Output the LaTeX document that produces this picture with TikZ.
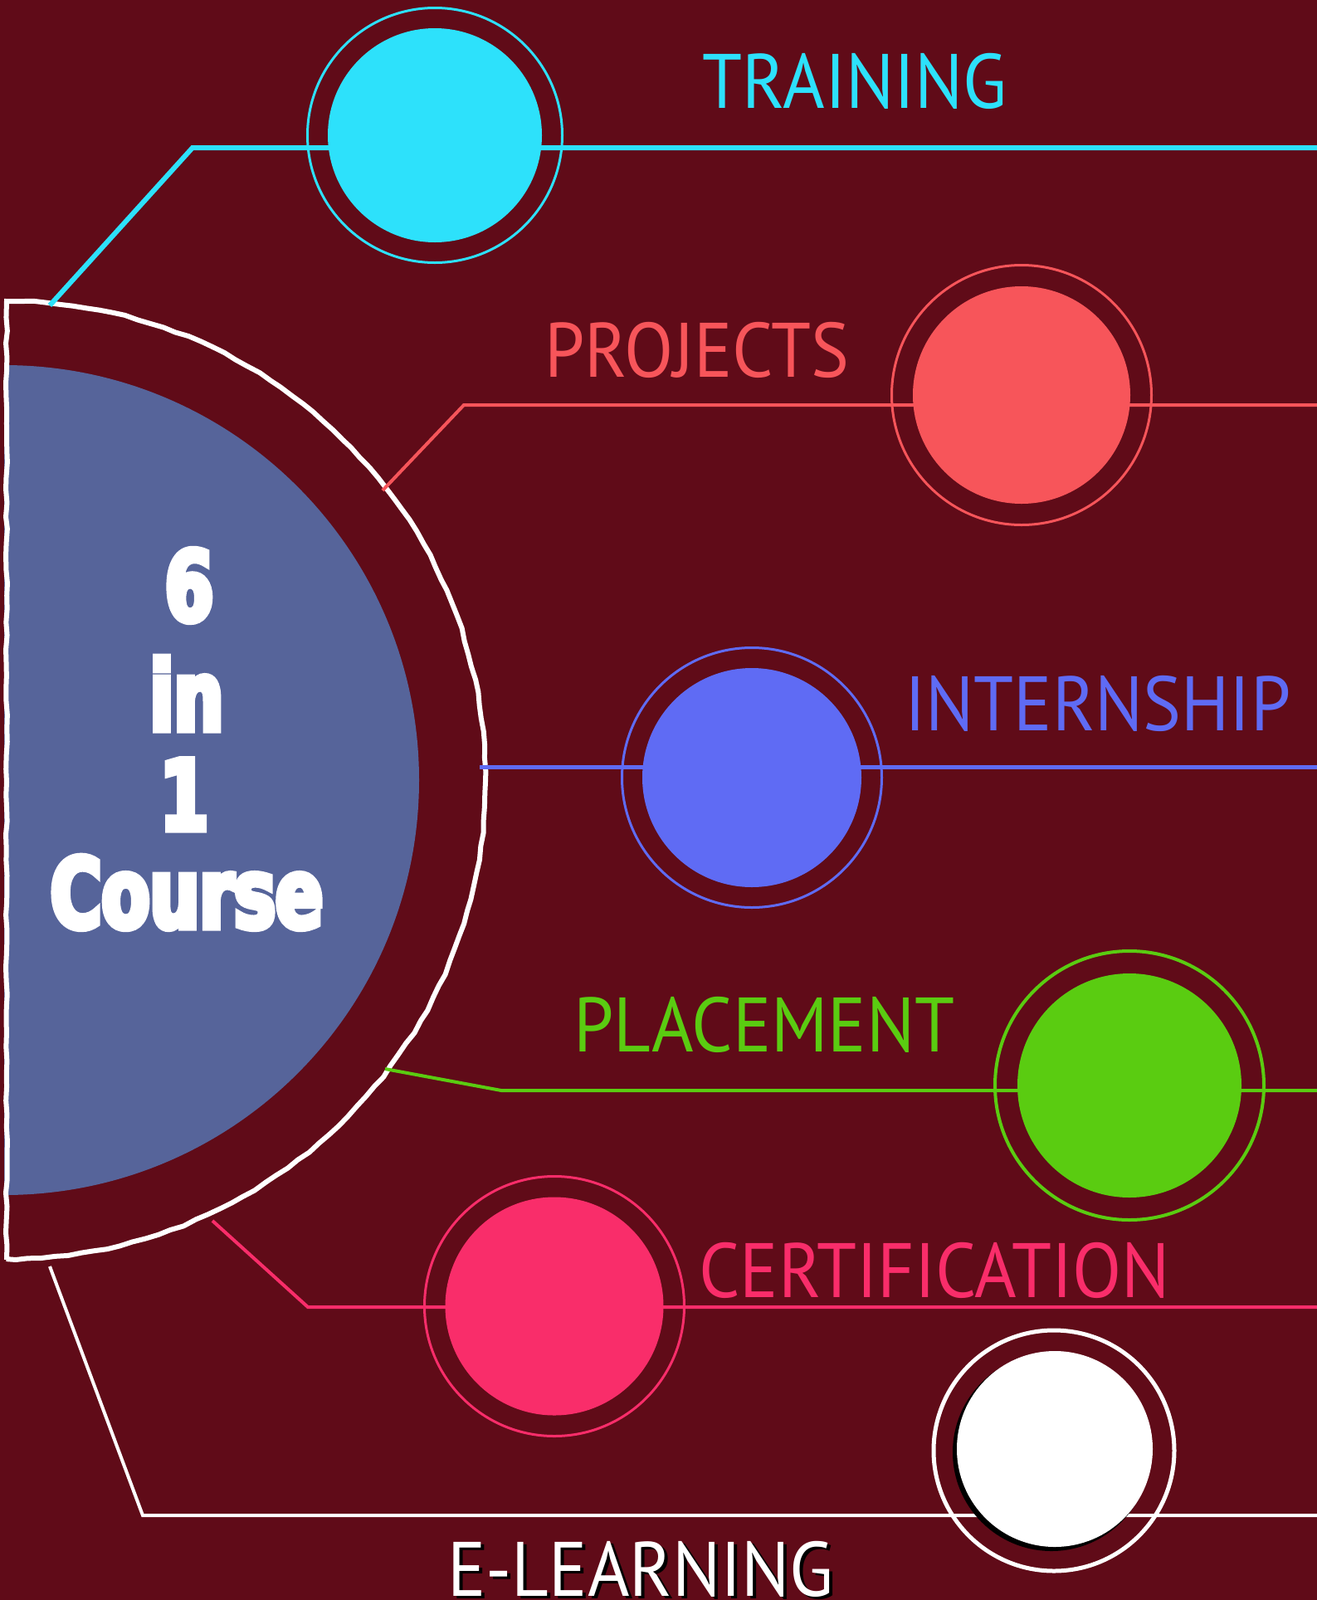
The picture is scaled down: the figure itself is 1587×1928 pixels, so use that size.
\documentclass[tikz,border=0pt]{standalone}
\usepackage{fontspec}
\setmainfont{PT Sans}[FakeStretch=0.93]
\newfontfamily\heavyfont{DejaVu Sans}[FakeStretch=0.72, BoldFeatures={FakeBold=6}]
\usetikzlibrary{decorations.pathmorphing}
\definecolor{bg}{HTML}{600B18}
\definecolor{disc}{HTML}{56649A}
\definecolor{trainC}{HTML}{2DE1FB}
\definecolor{projC}{HTML}{F7555A}
\definecolor{internC}{HTML}{5F6BF4}
\definecolor{placeC}{HTML}{5ACC11}
\definecolor{certC}{HTML}{F92D6A}

\begin{document}
\begin{tikzpicture}[x=1pt, y=-1pt,
    dot/.style={circle, fill=#1, inner sep=0pt},
    ring/.style={circle, draw=#1, inner sep=0pt},
    lbl/.style={text=#1, font=\fontsize{93}{93}\selectfont, inner sep=0pt, anchor=base},
    big/.style={text=white, font=\heavyfont\bfseries\fontsize{117}{117}\selectfont, inner sep=0pt, anchor=base}]
    \fill[bg] (0,0) rectangle (1587,1928);
    \useasboundingbox (0,0) rectangle (1587,1928);

    % half disc and its outline
    \begin{scope}
        \clip (5,0) rectangle (1587,1928);
        \fill[disc] (5,940) circle[radius=500];
    \end{scope}
    \draw[white, line width=6pt, decorate,
        decoration={random steps, segment length=16pt, amplitude=1pt}]
        (8,1518) -- (8,363) arc[start angle=-90, end angle=90, radius=577];

    % connector points
    \coordinate (t1) at (60,368);   \coordinate (t2) at (232,178);  \coordinate (t3) at (1587,178);
    \coordinate (p1) at (461,591);  \coordinate (p2) at (559,488);  \coordinate (p3) at (1587,488);
    \coordinate (i1) at (578,924);  \coordinate (i3) at (1587,924);
    \coordinate (l1) at (464,1288); \coordinate (l2) at (604,1314); \coordinate (l3) at (1587,1314);
    \coordinate (c1) at (256,1471); \coordinate (c2) at (371,1575); \coordinate (c3) at (1587,1575);
    \coordinate (e1) at (60,1526);  \coordinate (e2) at (172,1826); \coordinate (e3) at (1587,1826);

    \draw[trainC, line width=6pt] (t1) -- (t2) -- (t3);
    \draw[projC, line width=4pt] (p1) -- (p2) -- (p3);
    \draw[internC, line width=5pt] (i1) -- (i3);
    \draw[placeC, line width=4pt] (l1) -- (l2) -- (l3);
    \draw[certC, line width=4pt] (c1) -- (c2) -- (c3);
    \draw[white, line width=4pt] (e1) -- (e2) -- (e3);

    % circles
    \node[ring=trainC, line width=3pt, minimum size=307pt] (train ring) at (524,163) {};
    \node[dot=trainC, minimum size=258pt] (train) at (524,163) {};
    \node[ring=projC, line width=3pt, minimum size=313pt] (proj ring) at (1231,476) {};
    \node[dot=projC, minimum size=262pt] (proj) at (1231,476) {};
    \node[ring=internC, line width=3pt, minimum size=313pt] (intern ring) at (906,937) {};
    \node[dot=internC, minimum size=264pt] (intern) at (906,937) {};
    \node[ring=placeC, line width=4pt, minimum size=324pt] (place ring) at (1361,1308) {};
    \node[dot=placeC, minimum size=270pt] (place) at (1361,1308) {};
    \node[ring=certC, line width=3pt, minimum size=313pt] (cert ring) at (668,1574) {};
    \node[dot=certC, minimum size=263pt] (cert) at (668,1574) {};
    \node[ring=white, line width=5pt, minimum size=290pt] (elearn ring) at (1270,1748) {};
    \node[dot=black, minimum size=238pt] (elearn shadow) at (1267,1750) {};
    \node[dot=white, minimum size=236pt] (elearn) at (1271,1746) {};

    % labels
    \node[lbl=trainC] (training) at (1030,130) {TRAINING};
    \node[lbl=projC] (projects) at (840,454) {PROJECTS};
    \node[lbl=internC] (internship) at (1323,880) {INTERNSHIP};
    \node[lbl=placeC] (placement) at (921,1267) {PLACEMENT};
    \node[lbl=certC] (certification) at (1126,1563) {CERTIFICATION};
    \node[lbl=black] (elearning shadow) at (776,1926) {E-LEARNING};
    \node[lbl=white] (elearning) at (772,1923) {E-LEARNING};

    \node[big] (six) at (228,748) {6};
    \node[big] (in) at (225,880) {in};
    \node[big] (one) at (222,1000) {1};
    \node[big] (course) at (225,1118) {Course};
\end{tikzpicture}
\end{document}
